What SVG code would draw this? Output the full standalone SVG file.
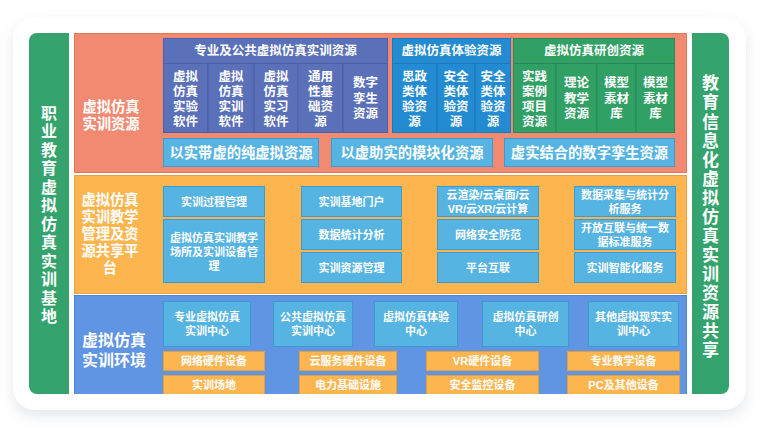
<svg xmlns="http://www.w3.org/2000/svg" width="760" height="432" viewBox="0 0 760 432">
<defs>
<style>
text{font-family:"Liberation Sans","Noto Sans CJK SC",sans-serif;font-weight:bold;fill:#fff;text-anchor:middle;dominant-baseline:central}
.vt{font-family:"Noto Sans CJK SC",sans-serif;writing-mode:tb;glyph-orientation-vertical:0}
.bar{fill:#34a36e}
.g1{fill:#5a70b8;stroke:#4a5fa6;stroke-width:1}
.g2{fill:#238bd1;stroke:#1c78b8;stroke-width:1}
.g3{fill:#31a064;stroke:#27895a;stroke-width:1}
.lb{fill:#56b4e3;stroke:#3d9ad0;stroke-width:1}
.ob{fill:#fdb54f;stroke:#e79e3a;stroke-width:1}
.t12{font-size:12.5px}
.t11{font-size:11px}
.t14{font-size:14.3px}
</style>
<filter id="sh" x="-10%" y="-10%" width="120%" height="130%">
<feDropShadow dx="0" dy="6" stdDeviation="7" flood-color="#8a93a8" flood-opacity="0.22"/>
</filter>
<clipPath id="cc"><rect x="74" y="33" width="613" height="361"/></clipPath>
</defs>
<rect width="760" height="432" fill="#fff"/>
<rect x="13" y="17" width="733" height="393" rx="22" fill="#fff" filter="url(#sh)"/>

<g id="left-bar">
<path class="bar" d="M37 33H69V394H37A8 8 0 0 1 29 386V41A8 8 0 0 1 37 33Z"/>
<text class="vt" font-size="16" letter-spacing="2.5" x="49" y="215.5">职业教育虚拟仿真实训基地</text>
</g>

<g id="right-bar">
<path class="bar" d="M692 33H721A8 8 0 0 1 729 41V386A8 8 0 0 1 721 394H692Z"/>
<text class="vt" font-size="17" letter-spacing="2.07" x="710.5" y="217.5">教育信息化虚拟仿真实训资源共享</text>
</g>

<g clip-path="url(#cc)">
<g id="sec-resources">
<rect x="74.5" y="33.5" width="612" height="139" fill="#f18a71" stroke="#e2775f"/>
<text class="t14"><tspan x="111" y="107">虚拟仿真</tspan><tspan x="111" y="124">实训资源</tspan></text>
</g>
<g id="grp-pro">
<rect class="g1" x="163.5" y="38.5" width="224" height="25"/>
<text class="t12" x="275.5" y="51">专业及公共虚拟仿真实训资源</text>
<rect class="g1" x="163.5" y="63.5" width="44.5" height="69"/>
<rect class="g1" x="208" y="63.5" width="46" height="69"/>
<rect class="g1" x="254" y="63.5" width="44" height="69"/>
<rect class="g1" x="298" y="63.5" width="45" height="69"/>
<rect class="g1" x="343" y="63.5" width="44.5" height="69"/>
<text class="t12"><tspan x="185.5" y="77">虚拟</tspan><tspan x="185.5" y="92">仿真</tspan><tspan x="185.5" y="107">实验</tspan><tspan x="185.5" y="122">软件</tspan></text>
<text class="t12"><tspan x="231" y="77">虚拟</tspan><tspan x="231" y="92">仿真</tspan><tspan x="231" y="107">实训</tspan><tspan x="231" y="122">软件</tspan></text>
<text class="t12"><tspan x="276" y="77">虚拟</tspan><tspan x="276" y="92">仿真</tspan><tspan x="276" y="107">实习</tspan><tspan x="276" y="122">软件</tspan></text>
<text class="t12"><tspan x="320.5" y="77">通用</tspan><tspan x="320.5" y="92">性基</tspan><tspan x="320.5" y="107">础资</tspan><tspan x="320.5" y="122">源</tspan></text>
<text class="t12"><tspan x="365.5" y="83">数字</tspan><tspan x="365.5" y="98.5">孪生</tspan><tspan x="365.5" y="114">资源</tspan></text>
</g>
<g id="grp-exp">
<rect class="g2" x="392.5" y="38.5" width="118" height="25"/>
<text class="t12" x="451.5" y="51">虚拟仿真体验资源</text>
<rect class="g2" x="392.5" y="63.5" width="44.5" height="69"/>
<rect class="g2" x="437" y="63.5" width="38" height="69"/>
<rect class="g2" x="475" y="63.5" width="35.5" height="69"/>
<text class="t12"><tspan x="414.5" y="77">思政</tspan><tspan x="414.5" y="92">类体</tspan><tspan x="414.5" y="107">验资</tspan><tspan x="414.5" y="122">源</tspan></text>
<text class="t12"><tspan x="456" y="77">安全</tspan><tspan x="456" y="92">类体</tspan><tspan x="456" y="107">验资</tspan><tspan x="456" y="122">源</tspan></text>
<text class="t12"><tspan x="493" y="77">安全</tspan><tspan x="493" y="92">类体</tspan><tspan x="493" y="107">验资</tspan><tspan x="493" y="122">源</tspan></text>
</g>
<g id="grp-res">
<rect class="g3" x="513.5" y="38.5" width="161" height="25"/>
<text class="t12" x="594" y="51">虚拟仿真研创资源</text>
<rect class="g3" x="513.5" y="63.5" width="42.5" height="69"/>
<rect class="g3" x="556" y="63.5" width="41" height="69"/>
<rect class="g3" x="597" y="63.5" width="39" height="69"/>
<rect class="g3" x="636" y="63.5" width="38.5" height="69"/>
<text class="t12"><tspan x="534.5" y="77">实践</tspan><tspan x="534.5" y="92">案例</tspan><tspan x="534.5" y="107">项目</tspan><tspan x="534.5" y="122">资源</tspan></text>
<text class="t12"><tspan x="576.5" y="83">理论</tspan><tspan x="576.5" y="98.5">教学</tspan><tspan x="576.5" y="114">资源</tspan></text>
<text class="t12"><tspan x="616.5" y="83">模型</tspan><tspan x="616.5" y="98.5">素材</tspan><tspan x="616.5" y="114">库</tspan></text>
<text class="t12"><tspan x="655.5" y="83">模型</tspan><tspan x="655.5" y="98.5">素材</tspan><tspan x="655.5" y="114">库</tspan></text>
</g>
<g id="res-types">
<rect class="lb" x="163.5" y="138.5" width="155" height="28"/>
<text class="t14" x="241" y="152.5">以实带虚的纯虚拟资源</text>
<rect class="lb" x="331.5" y="138.5" width="161" height="28"/>
<text class="t14" x="412" y="152.5">以虚助实的模块化资源</text>
<rect class="lb" x="504.5" y="138.5" width="170" height="28"/>
<text class="t14" x="589.5" y="152.5">虚实结合的数字孪生资源</text>
</g>

<g id="sec-platform">
<rect x="74.5" y="175.5" width="612" height="118" fill="#fdb54f" stroke="#eaa03e"/>
<text class="t14"><tspan x="110" y="200">虚拟仿真</tspan><tspan x="110" y="217">实训教学</tspan><tspan x="110" y="233.5">管理及资</tspan><tspan x="110" y="250.5">源共享平</tspan><tspan x="110" y="268">台</tspan></text>
</g>
<g id="plat-col1">
<rect class="lb" x="163.5" y="186.5" width="101" height="30"/>
<text class="t11" x="214" y="202">实训过程管理</text>
<rect class="lb" x="163.5" y="219.5" width="101" height="63"/>
<text class="t11"><tspan x="214" y="238">虚拟仿真实训教学</tspan><tspan x="214" y="252">场所及实训设备管</tspan><tspan x="214" y="266">理</tspan></text>
</g>
<g id="plat-col2">
<rect class="lb" x="301.5" y="186.5" width="100" height="30"/>
<text class="t11" x="351.5" y="202">实训基地门户</text>
<rect class="lb" x="301.5" y="219.5" width="100" height="30"/>
<text class="t11" x="351.5" y="235">数据统计分析</text>
<rect class="lb" x="301.5" y="252.5" width="100" height="30"/>
<text class="t11" x="351.5" y="268">实训资源管理</text>
</g>
<g id="plat-col3">
<rect class="lb" x="437.5" y="186.5" width="101" height="30"/>
<text class="t11"><tspan x="488" y="195">云渲染/云桌面/云</tspan><tspan x="488" y="209">VR/云XR/云计算</tspan></text>
<rect class="lb" x="437.5" y="219.5" width="101" height="30"/>
<text class="t11" x="488" y="235">网络安全防范</text>
<rect class="lb" x="437.5" y="252.5" width="101" height="30"/>
<text class="t11" x="488" y="268">平台互联</text>
</g>
<g id="plat-col4">
<rect class="lb" x="574.5" y="186.5" width="101" height="30"/>
<text class="t11"><tspan x="625" y="195">数据采集与统计分</tspan><tspan x="625" y="209">析服务</tspan></text>
<rect class="lb" x="574.5" y="219.5" width="101" height="30"/>
<text class="t11"><tspan x="625" y="228">开放互联与统一数</tspan><tspan x="625" y="242">据标准服务</tspan></text>
<rect class="lb" x="574.5" y="252.5" width="101" height="30"/>
<text class="t11" x="625" y="268">实训智能化服务</text>
</g>

<g id="sec-env">
<rect x="74.5" y="295.5" width="612" height="110" fill="#5f95e3" stroke="#4f84d2"/>
<text font-size="16"><tspan x="114" y="340">虚拟仿真</tspan><tspan x="114" y="360">实训环境</tspan></text>
</g>
<g id="env-centers">
<rect class="lb" x="163.5" y="301.5" width="87" height="45"/>
<text class="t11"><tspan x="207" y="317">专业虚拟仿真</tspan><tspan x="207" y="331">实训中心</tspan></text>
<rect class="lb" x="273.5" y="301.5" width="79" height="45"/>
<text class="t11"><tspan x="313" y="317">公共虚拟仿真</tspan><tspan x="313" y="331">实训中心</tspan></text>
<rect class="lb" x="374.5" y="301.5" width="83" height="45"/>
<text class="t11"><tspan x="416" y="317">虚拟仿真体验</tspan><tspan x="416" y="331">中心</tspan></text>
<rect class="lb" x="482.5" y="301.5" width="86" height="45"/>
<text class="t11"><tspan x="525.5" y="317">虚拟仿真研创</tspan><tspan x="525.5" y="331">中心</tspan></text>
<rect class="lb" x="588.5" y="301.5" width="90" height="45"/>
<text class="t11"><tspan x="633.5" y="317">其他虚拟现实实</tspan><tspan x="633.5" y="331">训中心</tspan></text>
</g>
<g id="env-devices">
<rect class="ob" x="163.5" y="351.5" width="101" height="19"/>
<text class="t11" x="214" y="361">网络硬件设备</text>
<rect class="ob" x="299.5" y="351.5" width="97" height="19"/>
<text class="t11" x="348" y="361">云服务硬件设备</text>
<rect class="ob" x="426.5" y="351.5" width="112" height="19"/>
<text class="t11" x="482.5" y="361">VR硬件设备</text>
<rect class="ob" x="567.5" y="351.5" width="112" height="19"/>
<text class="t11" x="623.5" y="361">专业教学设备</text>
<rect class="ob" x="163.5" y="375.5" width="101" height="24"/>
<text class="t11" x="214" y="385">实训场地</text>
<rect class="ob" x="299.5" y="375.5" width="97" height="24"/>
<text class="t11" x="348" y="385">电力基础设施</text>
<rect class="ob" x="426.5" y="375.5" width="112" height="24"/>
<text class="t11" x="482.5" y="385">安全监控设备</text>
<rect class="ob" x="567.5" y="375.5" width="112" height="24"/>
<text class="t11" x="623.5" y="385">PC及其他设备</text>
</g>
</g>
<g id="connectors"/>
</svg>
